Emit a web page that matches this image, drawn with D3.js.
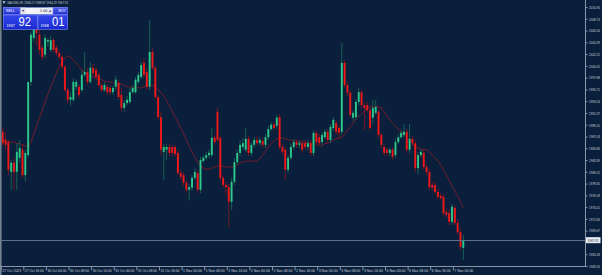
<!DOCTYPE html>
<html>
<head>
<meta charset="utf-8">
<script src="https://cdn.jsdelivr.net/npm/d3@7"></script>
<style>
  html, body { margin: 0; padding: 0; background: #0a1f3b; overflow: hidden; }
  svg { display: block; font-family: "Liberation Sans", Arial, sans-serif; }
</style>
</head>
<body>
<script>
// XAUUSD H1 candles
const opens = [
  1987.9, 1986.4, 1986.0, 1980.5, 1982.2, 1980.5, 1983.1, 1984.6, 1979.9, 1983.6,
  1997.1, 2005.2, 2007.0, 2005.8, 2003.4, 2002.1, 2004.5, 2003.0, 2004.8, 2003.4,
  2002.4, 2001.7, 1999.9, 1995.6, 1993.8, 1993.8, 1996.2, 1996.2, 1995.6, 1998.4,
  1998.9, 1997.1, 1999.7, 1999.3, 1998.4, 1996.5, 1995.6, 1996.2, 1996.0, 1995.2,
  1996.2, 1996.9, 1994.7, 1992.3, 1993.2, 1993.4, 1995.2, 1995.2, 1997.1, 1998.0,
  2000.6, 1998.9, 1996.2, 2002.6, 1999.7, 1994.3, 1990.6, 1984.2, 1984.6, 1985.1,
  1985.1, 1985.1, 1984.0, 1980.3, 1979.9, 1978.5, 1977.2, 1977.6, 1979.4, 1980.3,
  1977.2, 1982.5, 1983.1, 1983.6, 1983.6, 1986.8, 1991.6, 1986.8, 1979.4, 1978.1,
  1977.7, 1975.0, 1978.7, 1982.3, 1984.0, 1985.1, 1984.6, 1986.6, 1984.0, 1985.5,
  1986.4, 1985.8, 1986.2, 1985.5, 1986.9, 1988.4, 1989.2, 1989.0, 1990.6, 1985.1,
  1984.6, 1980.9, 1983.1, 1985.1, 1986.0, 1985.5, 1985.8, 1985.8, 1985.1, 1985.8,
  1984.0, 1987.7, 1986.9, 1986.0, 1986.9, 1987.9, 1986.4, 1988.6, 1989.5, 1988.6,
  1987.9, 2000.6, 1996.5, 1995.1, 1990.5, 1990.6, 1993.4, 1995.2, 1992.8, 1992.8,
  1991.9, 1990.5, 1991.4, 1991.6, 1987.3, 1985.1, 1984.6, 1984.0, 1984.6, 1983.6,
  1986.0, 1986.9, 1987.3, 1987.9, 1984.6, 1986.6, 1985.8, 1981.2, 1983.6, 1984.0,
  1981.4, 1980.5, 1978.1, 1978.1, 1976.8, 1976.1, 1975.9, 1973.1, 1972.9, 1971.3,
  1973.9, 1971.1, 1969.4, 1966.5
];
const highs = [
  1988.6, 1987.7, 1986.4, 1982.7, 1983.1, 1985.8, 1986.4, 1985.5, 1984.6, 1984.6,
  2006.3, 2008.9, 2007.8, 2006.7, 2003.9, 2005.8, 2005.2, 2005.6, 2005.2, 2003.9,
  2003.0, 2002.1, 2000.2, 1996.0, 1995.2, 1997.8, 1997.5, 1996.7, 1999.3, 2002.6,
  1999.7, 2000.8, 2000.4, 1999.9, 1998.9, 1997.1, 1997.1, 1996.7, 1996.5, 1996.4,
  1998.2, 1997.5, 1996.0, 1993.8, 1994.5, 1996.0, 1996.5, 1998.0, 1998.9, 2000.8,
  2001.5, 1999.7, 2008.5, 2003.4, 2000.0, 1994.7, 1991.6, 1985.7, 1985.7, 1985.7,
  1985.5, 1985.5, 1984.6, 1980.9, 1980.5, 1979.0, 1978.3, 1979.9, 1981.2, 1980.9,
  1983.3, 1983.6, 1984.2, 1984.6, 1988.6, 1987.3, 1992.3, 1987.1, 1979.9, 1978.7,
  1978.3, 1979.4, 1983.1, 1984.6, 1986.4, 1986.8, 1988.6, 1987.1, 1986.0, 1986.9,
  1987.1, 1986.9, 1986.8, 1987.5, 1989.0, 1989.7, 1989.7, 1991.0, 1991.2, 1985.7,
  1985.1, 1983.6, 1985.7, 1986.6, 1986.6, 1986.4, 1986.4, 1986.4, 1986.4, 1986.4,
  1988.2, 1988.2, 1987.5, 1987.9, 1988.4, 1988.4, 1989.3, 1990.6, 1990.1, 1989.2,
  2004.3, 2001.1, 1997.1, 1995.6, 1991.9, 1993.9, 1996.0, 1995.6, 1993.4, 1993.4,
  1992.5, 1993.8, 1993.8, 1992.1, 1987.7, 1985.7, 1984.9, 1984.9, 1985.1, 1986.6,
  1987.5, 1988.2, 1989.3, 1988.4, 1989.3, 1987.1, 1986.4, 1984.2, 1984.7, 1984.6,
  1982.0, 1981.1, 1978.7, 1978.7, 1977.4, 1976.6, 1976.4, 1973.7, 1973.5, 1974.6,
  1974.4, 1971.7, 1970.2, 1968.9
];
const lows = [
  1985.3, 1984.6, 1979.9, 1977.2, 1977.2, 1977.2, 1982.3, 1979.4, 1978.7, 1983.1,
  1996.4, 2004.5, 2003.9, 2002.1, 2001.1, 2001.5, 2003.7, 2002.6, 2002.6, 2001.9,
  2001.1, 1999.3, 1995.2, 1993.0, 1992.7, 1993.4, 1995.6, 1994.1, 1995.2, 1998.0,
  1996.5, 1996.7, 1998.2, 1997.5, 1996.0, 1995.2, 1995.2, 1994.7, 1994.7, 1994.7,
  1995.6, 1993.8, 1991.6, 1991.6, 1992.7, 1993.0, 1994.9, 1994.9, 1996.7, 1997.6,
  1997.8, 1995.6, 1995.6, 1999.3, 1993.9, 1990.1, 1983.6, 1979.0, 1982.7, 1983.4,
  1983.4, 1983.3, 1979.9, 1979.0, 1977.9, 1976.6, 1975.3, 1977.0, 1979.0, 1976.6,
  1976.6, 1982.2, 1982.7, 1983.1, 1983.3, 1985.5, 1986.0, 1978.8, 1977.6, 1976.3,
  1970.2, 1973.5, 1978.1, 1981.8, 1983.4, 1984.6, 1984.2, 1983.4, 1983.4, 1984.9,
  1985.3, 1985.3, 1984.9, 1984.9, 1986.4, 1988.1, 1988.1, 1988.4, 1984.6, 1983.6,
  1979.0, 1980.3, 1982.7, 1984.6, 1984.9, 1984.9, 1984.0, 1984.6, 1984.6, 1983.4,
  1983.4, 1985.5, 1985.3, 1985.5, 1986.6, 1985.8, 1985.8, 1988.1, 1987.3, 1986.4,
  1987.3, 1996.0, 1994.5, 1990.5, 1989.9, 1990.1, 1992.8, 1992.3, 1988.2, 1991.4,
  1988.1, 1989.2, 1991.0, 1986.8, 1984.9, 1983.4, 1983.4, 1983.4, 1982.7, 1983.1,
  1985.7, 1986.6, 1986.9, 1984.0, 1984.0, 1985.3, 1980.5, 1980.1, 1983.1, 1980.9,
  1979.9, 1977.2, 1977.0, 1976.3, 1975.3, 1975.2, 1972.4, 1972.0, 1970.7, 1970.7,
  1970.6, 1968.9, 1966.1, 1964.3
];
const closes = [
  1985.8, 1985.5, 1980.9, 1982.2, 1980.5, 1984.2, 1984.9, 1979.9, 1984.0, 1997.1,
  2005.8, 2007.2, 2006.1, 2003.0, 2001.7, 2005.2, 2004.8, 2004.8, 2003.0, 2002.4,
  2001.7, 1999.9, 1995.6, 1993.8, 1994.3, 1997.1, 1997.1, 1994.7, 1998.4, 1998.9,
  1997.1, 1999.7, 1998.7, 1998.0, 1996.5, 1995.6, 1996.5, 1995.2, 1995.2, 1996.0,
  1997.5, 1994.3, 1992.3, 1993.2, 1993.8, 1995.2, 1996.0, 1997.5, 1998.4, 2000.2,
  1998.4, 1996.2, 2002.6, 1999.7, 1994.3, 1990.6, 1984.6, 1985.1, 1985.1, 1984.0,
  1984.0, 1983.8, 1980.3, 1979.6, 1978.5, 1977.2, 1977.7, 1979.4, 1980.5, 1977.2,
  1982.7, 1983.1, 1983.6, 1984.0, 1986.8, 1986.0, 1986.4, 1979.4, 1978.1, 1977.7,
  1975.0, 1978.7, 1982.3, 1984.0, 1985.5, 1985.8, 1986.6, 1984.0, 1985.5, 1986.4,
  1985.8, 1986.4, 1985.5, 1986.9, 1988.4, 1989.2, 1988.6, 1990.5, 1985.1, 1984.2,
  1980.9, 1983.1, 1985.1, 1986.0, 1985.5, 1985.8, 1984.6, 1985.1, 1985.8, 1984.0,
  1987.7, 1986.0, 1985.8, 1987.3, 1987.9, 1986.4, 1988.8, 1990.1, 1987.9, 1987.7,
  2000.6, 1996.5, 1995.1, 1991.0, 1991.4, 1993.4, 1995.2, 1992.8, 1992.3, 1991.9,
  1988.6, 1992.3, 1992.5, 1987.3, 1985.5, 1984.0, 1984.0, 1984.6, 1983.3, 1986.0,
  1986.9, 1987.7, 1987.9, 1984.6, 1986.6, 1985.8, 1981.2, 1983.6, 1984.2, 1981.4,
  1980.5, 1977.7, 1977.6, 1976.8, 1975.9, 1975.7, 1972.9, 1972.6, 1971.3, 1974.1,
  1971.1, 1969.4, 1966.7, 1967.9
];
// moving average line as drawn on the chart
const maValues = [
  1986.4, 1986.2, 1986.2, 1986.0, 1986.0, 1985.8, 1985.7, 1985.5, 1985.3, 1985.1,
  1986.0, 1987.5, 1989.0, 1990.5, 1991.9, 1993.4, 1994.9, 1996.2, 1997.5, 1998.7,
  1999.9, 2000.8, 2001.5, 2001.9, 2001.7, 2001.1, 2000.6, 1999.9, 1999.3, 1998.9,
  1998.6, 1998.2, 1998.0, 1997.8, 1997.6, 1997.5, 1997.3, 1997.1, 1997.1, 1996.9,
  1996.9, 1996.9, 1996.7, 1996.5, 1996.2, 1996.2, 1996.0, 1996.0, 1996.0, 1996.0,
  1996.2, 1996.4, 1996.5, 1996.5, 1996.2, 1995.6, 1995.1, 1994.5, 1993.6, 1992.7,
  1991.7, 1990.6, 1989.7, 1988.6, 1987.5, 1986.4, 1985.3, 1984.2, 1983.3, 1982.3,
  1981.6, 1981.2, 1981.0, 1981.0, 1981.2, 1981.4, 1981.6, 1981.6, 1981.6, 1981.4,
  1981.4, 1981.4, 1981.6, 1981.8, 1982.2, 1982.3, 1982.5, 1982.5, 1982.5, 1982.5,
  1982.5, 1982.9, 1983.6, 1984.4, 1985.1, 1985.7, 1986.2, 1986.6, 1986.8, 1986.8,
  1986.6, 1986.4, 1986.4, 1986.2, 1986.2, 1986.0, 1986.0, 1986.0, 1985.8, 1985.8,
  1985.8, 1985.5, 1985.3, 1985.3, 1985.7, 1985.8, 1986.0, 1986.4, 1986.6, 1986.8,
  1986.9, 1987.5, 1988.2, 1988.8, 1989.5, 1990.3, 1990.8, 1991.2, 1991.7, 1992.3,
  1992.5, 1992.5, 1992.5, 1992.5, 1992.3, 1991.6, 1990.8, 1990.1, 1989.5, 1989.0,
  1988.4, 1987.9, 1987.5, 1986.9, 1986.4, 1985.7, 1985.3, 1984.9, 1984.7, 1984.6,
  1984.6, 1984.2, 1983.6, 1983.1, 1982.5, 1981.8, 1980.9, 1979.9, 1979.0, 1977.9,
  1977.0, 1976.1, 1975.0, 1973.9
];
// one time label every 8 bars
const timeLabels = [
  "27 Oct 2023", "27 Oct 16:00", "30 Oct 00:00", "30 Oct 08:00", "30 Oct 16:00",
  "31 Oct 00:00", "31 Oct 08:00", "31 Oct 16:00", "1 Nov 00:00", "1 Nov 08:00",
  "1 Nov 16:00", "2 Nov 00:00", "2 Nov 08:00", "2 Nov 16:00", "3 Nov 00:00",
  "3 Nov 08:00", "3 Nov 16:00", "6 Nov 00:00", "6 Nov 08:00", "6 Nov 16:00",
  "7 Nov 00:00"
];
const priceTicks = [
  2010.90, 2008.73, 2006.56, 2004.39, 2002.22, 2000.05, 1997.88, 1995.71,
  1993.54, 1991.37, 1989.20, 1987.03, 1984.86, 1982.69, 1980.52, 1978.35,
  1976.18, 1974.01, 1971.84, 1969.67, 1967.50, 1965.33, 1963.16
];
const headerText = "XAUUSD,H1  1966.17 1968.87 1964.29 1967.92";
const bid = 1967.92, ask = 1968.01;
const lotSize = "1.00";

const W = 602, H = 275;
const plotRight = 585, plotBottom = 266;
const bg = "#0a1f3b";

const svg = d3.select("body").append("svg")
  .attr("width", W)
  .attr("height", H);

svg.append("rect").attr("width", W).attr("height", H).attr("fill", bg);

let x = d3.scaleBand()
  .domain(d3.range(closes.length))
  .range([1.3, 464.7]);

let y = d3.scaleLinear()
  .domain([1963.16, 2012.19])
  .range([plotBottom, 0]);

const bars = closes.map((c, i) => ({ i: i, o: opens[i], h: highs[i], l: lows[i], c: c }));
const cx = d => x(d.i) + x.bandwidth() / 2;

// moving average
svg.append("path")
  .datum(maValues)
  .attr("fill", "none")
  .attr("stroke", "#8e1c2a")
  .attr("stroke-width", 0.8)
  .attr("d", d3.line().x((d, i) => x(i) + x.bandwidth() / 2).y(d => y(d)));

// wicks
svg.selectAll(".wick")
  .data(bars)
  .enter()
  .append("line")
  .attr("x1", cx).attr("x2", cx)
  .attr("y1", d => y(d.h))
  .attr("y2", d => y(d.l))
  .attr("stroke", d => d.c >= d.o ? "#1d6656" : "#7a1626")
  .attr("stroke-width", 0.9);

// bodies
svg.selectAll(".body")
  .data(bars)
  .enter()
  .append("rect")
  .attr("x", d => cx(d) - 0.95)
  .attr("width", 1.9)
  .attr("y", d => y(Math.max(d.o, d.c)))
  .attr("height", d => Math.max(0.7, Math.abs(y(d.o) - y(d.c))))
  .attr("fill", d => d.c >= d.o ? "#2cc98a" : "#f01818");

// current price line
svg.append("line")
  .attr("x1", 0).attr("x2", plotRight)
  .attr("y1", Math.round(y(bid)) + 0.5).attr("y2", Math.round(y(bid)) + 0.5)
  .attr("stroke", "#5f7086")
  .attr("stroke-width", 1);

// frame
svg.append("rect").attr("x", 0).attr("y", 0).attr("width", 1.6).attr("height", H).attr("fill", "#75828f");
svg.append("line")
  .attr("x1", plotRight + 0.5).attr("x2", plotRight + 0.5)
  .attr("y1", 0).attr("y2", plotBottom + 1)
  .attr("stroke", "#8896a8");
svg.append("line")
  .attr("x1", 0).attr("x2", plotRight + 1)
  .attr("y1", plotBottom + 0.5).attr("y2", plotBottom + 0.5)
  .attr("stroke", "#8896a8");

// price axis (the tick hidden under the current price tag is not drawn)
const visibleTicks = priceTicks.filter(p => Math.abs(y(p) - y(bid)) > 4);
const yAxis = svg.append("g")
  .attr("transform", "translate(" + (plotRight + 0.5) + ",0)")
  .call(d3.axisRight(y).tickValues(visibleTicks).tickFormat(d => d.toFixed(2)).tickSize(2).tickPadding(1.5));
yAxis.select(".domain").remove();
yAxis.selectAll("line").attr("stroke", "#8896a8");
yAxis.selectAll("text")
  .attr("fill", "#c9d1dc")
  .attr("font-size", 4)
  .attr("textLength", 11)
  .attr("lengthAdjust", "spacingAndGlyphs");

// current price label
svg.append("rect")
  .attr("x", plotRight + 1).attr("y", y(bid) - 3)
  .attr("width", 14.5).attr("height", 6)
  .attr("fill", "#e9edf2");
svg.append("text")
  .attr("x", plotRight + 2.5).attr("y", y(bid) + 1.5)
  .attr("font-size", 4)
  .attr("textLength", 11)
  .attr("lengthAdjust", "spacingAndGlyphs")
  .attr("fill", "#0a1f3b")
  .text(bid.toFixed(2));

// time axis
const labelBars = timeLabels.map((t, k) => k * 8);
const xAxis = svg.append("g")
  .attr("transform", "translate(0," + (plotBottom + 0.5) + ")")
  .call(d3.axisBottom(x).tickValues(labelBars).tickFormat((d, k) => timeLabels[k]).tickSize(4).tickPadding(0));
xAxis.select(".domain").remove();
xAxis.selectAll("line").attr("stroke", "#8896a8").attr("transform", "translate(-1.5,0)");
xAxis.selectAll("text")
  .attr("fill", "#c9d1dc")
  .attr("font-size", 3.8)
  .attr("text-anchor", "start")
  .attr("dy", 0)
  .attr("y", 5)
  .attr("x", -0.5)
  .attr("textLength", 19)
  .attr("lengthAdjust", "spacingAndGlyphs");

// header
svg.append("path")
  .attr("d", "M2.5,1.2 L5.5,1.2 L4,4 Z")
  .attr("fill", "#c9d1dc");
svg.append("text")
  .attr("x", 7).attr("y", 4.3)
  .attr("font-size", 3.6)
  .attr("fill", "#c9d1dc")
  .attr("textLength", 61)
  .attr("lengthAdjust", "spacingAndGlyphs")
  .text(headerText);

// one click trading panel
const defs = svg.append("defs");
const grad = defs.append("linearGradient").attr("id", "btn").attr("x1", 0).attr("y1", 0).attr("x2", 0).attr("y2", 1);
grad.append("stop").attr("offset", "0%").attr("stop-color", "#5563ee");
grad.append("stop").attr("offset", "100%").attr("stop-color", "#1f2fd2");
const grad2 = defs.append("linearGradient").attr("id", "big").attr("x1", 0).attr("y1", 0).attr("x2", 0).attr("y2", 1);
grad2.append("stop").attr("offset", "0%").attr("stop-color", "#3446ea");
grad2.append("stop").attr("offset", "100%").attr("stop-color", "#1a2bd0");

const panel = svg.append("g");
panel.append("rect").attr("x", 3).attr("y", 7).attr("width", 65).attr("height", 22.6).attr("fill", "#1c2bb8");
// sell / buy buttons
panel.append("rect").attr("x", 3.3).attr("y", 7.3).attr("width", 16.8).attr("height", 7.2)
  .attr("fill", "url(#btn)").attr("stroke", "#8d98f6").attr("stroke-width", 0.5);
panel.append("rect").attr("x", 53).attr("y", 7.3).attr("width", 14.7).attr("height", 7.2)
  .attr("fill", "url(#btn)").attr("stroke", "#8d98f6").attr("stroke-width", 0.5);
panel.append("text").attr("x", 6).attr("y", 12.2).attr("font-size", 3.6).attr("fill", "#ffffff").text("SELL");
panel.append("text").attr("x", 58.5).attr("y", 12.2).attr("font-size", 3.6).attr("fill", "#ffffff").text("BUY");
// lot box
panel.append("rect").attr("x", 20.6).attr("y", 7.6).attr("width", 32).attr("height", 6.6).attr("fill", "#f2f3f8").attr("stroke", "#9aa3c8").attr("stroke-width", 0.4);
panel.append("rect").attr("x", 20.6).attr("y", 7.6).attr("width", 5).attr("height", 6.6).attr("fill", "#dfe2ee");
panel.append("rect").attr("x", 47.6).attr("y", 7.6).attr("width", 5).attr("height", 6.6).attr("fill", "#dfe2ee");
panel.append("path").attr("d", "M22,10 L24.3,10 L23.15,11.8 Z").attr("fill", "#333a55");
panel.append("path").attr("d", "M49,11.8 L51.3,11.8 L50.15,10 Z").attr("fill", "#333a55");
panel.append("text").attr("x", 40).attr("y", 12.3).attr("font-size", 3.8).attr("fill", "#222").text(lotSize);
// bid / ask boxes
const bidTxt = bid.toFixed(2).split("."), askTxt = ask.toFixed(2).split(".");
panel.append("rect").attr("x", 3.3).attr("y", 15).attr("width", 34).attr("height", 14.3)
  .attr("fill", "url(#big)").attr("stroke", "#8d98f6").attr("stroke-width", 0.5);
panel.append("rect").attr("x", 38).attr("y", 15).attr("width", 29.7).attr("height", 14.3)
  .attr("fill", "url(#big)").attr("stroke", "#8d98f6").attr("stroke-width", 0.5);
panel.append("text").attr("x", 6.5).attr("y", 26.5).attr("font-size", 3.8).attr("fill", "#ffffff").text(bidTxt[0]);
panel.append("text").attr("x", 18.5).attr("y", 26.2).attr("font-size", 12.5).attr("fill", "#ffffff")
  .attr("textLength", 12.5).attr("lengthAdjust", "spacingAndGlyphs").text(bidTxt[1]);
panel.append("text").attr("x", 40.5).attr("y", 26.5).attr("font-size", 3.8).attr("fill", "#ffffff").text(askTxt[0]);
panel.append("text").attr("x", 52).attr("y", 26.2).attr("font-size", 12.5).attr("fill", "#ffffff")
  .attr("textLength", 12.5).attr("lengthAdjust", "spacingAndGlyphs").text(askTxt[1]);
</script>
</body>
</html>
